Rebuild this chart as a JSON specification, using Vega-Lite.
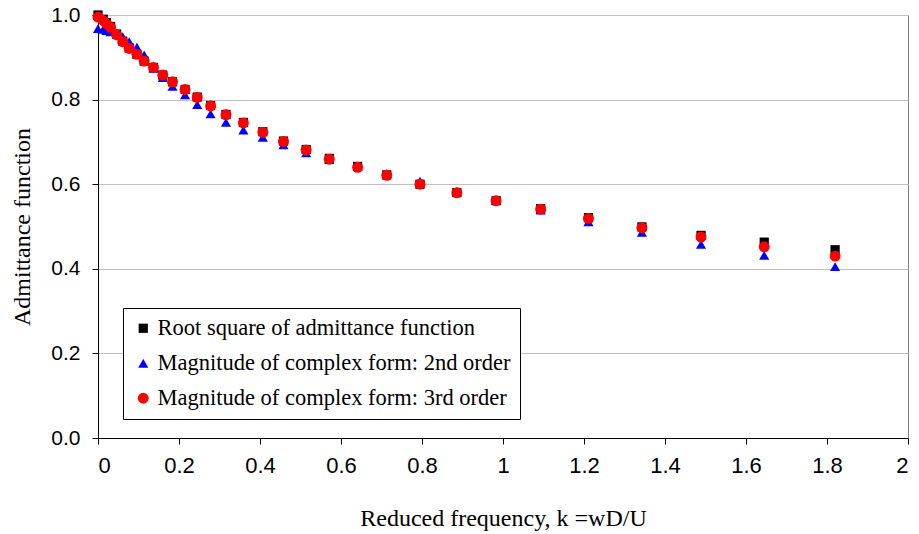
{
  "$schema": "https://vega.github.io/schema/vega-lite/v6.json",
  "width": 810,
  "height": 423,
  "autosize": {"type": "none"},
  "padding": {"left": 98, "top": 15, "right": 11, "bottom": 96},
  "background": "white",
  "config": {
    "view": {"stroke": "#808080", "strokeWidth": 1},
    "axis": {
      "labelFont": "Liberation Sans",
      "labelFontSize": 21,
      "labelColor": "#000000",
      "titleFont": "Liberation Serif",
      "titleFontSize": 24,
      "titleFontWeight": "normal",
      "titleColor": "#000000",
      "tickColor": "#000000",
      "tickSize": 6,
      "domainColor": "#000000"
    }
  },
  "data": {
    "values": [
      {"k": 0.000, "v": 1.000, "s": "Root square of admittance function"},
      {"k": 0.013, "v": 0.990, "s": "Root square of admittance function"},
      {"k": 0.021, "v": 0.982, "s": "Root square of admittance function"},
      {"k": 0.031, "v": 0.973, "s": "Root square of admittance function"},
      {"k": 0.046, "v": 0.955, "s": "Root square of admittance function"},
      {"k": 0.061, "v": 0.938, "s": "Root square of admittance function"},
      {"k": 0.077, "v": 0.922, "s": "Root square of admittance function"},
      {"k": 0.096, "v": 0.907, "s": "Root square of admittance function"},
      {"k": 0.114, "v": 0.891, "s": "Root square of admittance function"},
      {"k": 0.137, "v": 0.876, "s": "Root square of admittance function"},
      {"k": 0.160, "v": 0.858, "s": "Root square of admittance function"},
      {"k": 0.184, "v": 0.842, "s": "Root square of admittance function"},
      {"k": 0.215, "v": 0.824, "s": "Root square of admittance function"},
      {"k": 0.245, "v": 0.806, "s": "Root square of admittance function"},
      {"k": 0.278, "v": 0.786, "s": "Root square of admittance function"},
      {"k": 0.316, "v": 0.765, "s": "Root square of admittance function"},
      {"k": 0.359, "v": 0.746, "s": "Root square of admittance function"},
      {"k": 0.407, "v": 0.724, "s": "Root square of admittance function"},
      {"k": 0.458, "v": 0.702, "s": "Root square of admittance function"},
      {"k": 0.514, "v": 0.682, "s": "Root square of admittance function"},
      {"k": 0.571, "v": 0.661, "s": "Root square of admittance function"},
      {"k": 0.641, "v": 0.642, "s": "Root square of admittance function"},
      {"k": 0.713, "v": 0.622, "s": "Root square of admittance function"},
      {"k": 0.795, "v": 0.600, "s": "Root square of admittance function"},
      {"k": 0.886, "v": 0.580, "s": "Root square of admittance function"},
      {"k": 0.983, "v": 0.561, "s": "Root square of admittance function"},
      {"k": 1.093, "v": 0.542, "s": "Root square of admittance function"},
      {"k": 1.211, "v": 0.521, "s": "Root square of admittance function"},
      {"k": 1.343, "v": 0.499, "s": "Root square of admittance function"},
      {"k": 1.489, "v": 0.479, "s": "Root square of admittance function"},
      {"k": 1.645, "v": 0.463, "s": "Root square of admittance function"},
      {"k": 1.820, "v": 0.445, "s": "Root square of admittance function"},
      {"k": 0.000, "v": 0.968, "s": "Magnitude of complex form: 2nd order"},
      {"k": 0.013, "v": 0.966, "s": "Magnitude of complex form: 2nd order"},
      {"k": 0.021, "v": 0.963, "s": "Magnitude of complex form: 2nd order"},
      {"k": 0.031, "v": 0.960, "s": "Magnitude of complex form: 2nd order"},
      {"k": 0.046, "v": 0.955, "s": "Magnitude of complex form: 2nd order"},
      {"k": 0.061, "v": 0.949, "s": "Magnitude of complex form: 2nd order"},
      {"k": 0.077, "v": 0.937, "s": "Magnitude of complex form: 2nd order"},
      {"k": 0.096, "v": 0.924, "s": "Magnitude of complex form: 2nd order"},
      {"k": 0.114, "v": 0.906, "s": "Magnitude of complex form: 2nd order"},
      {"k": 0.137, "v": 0.874, "s": "Magnitude of complex form: 2nd order"},
      {"k": 0.160, "v": 0.852, "s": "Magnitude of complex form: 2nd order"},
      {"k": 0.184, "v": 0.831, "s": "Magnitude of complex form: 2nd order"},
      {"k": 0.215, "v": 0.811, "s": "Magnitude of complex form: 2nd order"},
      {"k": 0.245, "v": 0.788, "s": "Magnitude of complex form: 2nd order"},
      {"k": 0.278, "v": 0.766, "s": "Magnitude of complex form: 2nd order"},
      {"k": 0.316, "v": 0.746, "s": "Magnitude of complex form: 2nd order"},
      {"k": 0.359, "v": 0.728, "s": "Magnitude of complex form: 2nd order"},
      {"k": 0.407, "v": 0.711, "s": "Magnitude of complex form: 2nd order"},
      {"k": 0.458, "v": 0.693, "s": "Magnitude of complex form: 2nd order"},
      {"k": 0.514, "v": 0.674, "s": "Magnitude of complex form: 2nd order"},
      {"k": 0.571, "v": 0.658, "s": "Magnitude of complex form: 2nd order"},
      {"k": 0.641, "v": 0.643, "s": "Magnitude of complex form: 2nd order"},
      {"k": 0.713, "v": 0.625, "s": "Magnitude of complex form: 2nd order"},
      {"k": 0.795, "v": 0.607, "s": "Magnitude of complex form: 2nd order"},
      {"k": 0.886, "v": 0.583, "s": "Magnitude of complex form: 2nd order"},
      {"k": 0.983, "v": 0.561, "s": "Magnitude of complex form: 2nd order"},
      {"k": 1.093, "v": 0.539, "s": "Magnitude of complex form: 2nd order"},
      {"k": 1.211, "v": 0.511, "s": "Magnitude of complex form: 2nd order"},
      {"k": 1.343, "v": 0.486, "s": "Magnitude of complex form: 2nd order"},
      {"k": 1.489, "v": 0.458, "s": "Magnitude of complex form: 2nd order"},
      {"k": 1.645, "v": 0.432, "s": "Magnitude of complex form: 2nd order"},
      {"k": 1.820, "v": 0.405, "s": "Magnitude of complex form: 2nd order"},
      {"k": 0.000, "v": 0.995, "s": "Magnitude of complex form: 3rd order"},
      {"k": 0.013, "v": 0.987, "s": "Magnitude of complex form: 3rd order"},
      {"k": 0.021, "v": 0.979, "s": "Magnitude of complex form: 3rd order"},
      {"k": 0.031, "v": 0.971, "s": "Magnitude of complex form: 3rd order"},
      {"k": 0.046, "v": 0.953, "s": "Magnitude of complex form: 3rd order"},
      {"k": 0.061, "v": 0.937, "s": "Magnitude of complex form: 3rd order"},
      {"k": 0.077, "v": 0.921, "s": "Magnitude of complex form: 3rd order"},
      {"k": 0.096, "v": 0.907, "s": "Magnitude of complex form: 3rd order"},
      {"k": 0.114, "v": 0.891, "s": "Magnitude of complex form: 3rd order"},
      {"k": 0.137, "v": 0.876, "s": "Magnitude of complex form: 3rd order"},
      {"k": 0.160, "v": 0.858, "s": "Magnitude of complex form: 3rd order"},
      {"k": 0.184, "v": 0.842, "s": "Magnitude of complex form: 3rd order"},
      {"k": 0.215, "v": 0.824, "s": "Magnitude of complex form: 3rd order"},
      {"k": 0.245, "v": 0.805, "s": "Magnitude of complex form: 3rd order"},
      {"k": 0.278, "v": 0.785, "s": "Magnitude of complex form: 3rd order"},
      {"k": 0.316, "v": 0.764, "s": "Magnitude of complex form: 3rd order"},
      {"k": 0.359, "v": 0.745, "s": "Magnitude of complex form: 3rd order"},
      {"k": 0.407, "v": 0.723, "s": "Magnitude of complex form: 3rd order"},
      {"k": 0.458, "v": 0.701, "s": "Magnitude of complex form: 3rd order"},
      {"k": 0.514, "v": 0.681, "s": "Magnitude of complex form: 3rd order"},
      {"k": 0.571, "v": 0.659, "s": "Magnitude of complex form: 3rd order"},
      {"k": 0.641, "v": 0.640, "s": "Magnitude of complex form: 3rd order"},
      {"k": 0.713, "v": 0.621, "s": "Magnitude of complex form: 3rd order"},
      {"k": 0.795, "v": 0.600, "s": "Magnitude of complex form: 3rd order"},
      {"k": 0.886, "v": 0.580, "s": "Magnitude of complex form: 3rd order"},
      {"k": 0.983, "v": 0.561, "s": "Magnitude of complex form: 3rd order"},
      {"k": 1.093, "v": 0.541, "s": "Magnitude of complex form: 3rd order"},
      {"k": 1.211, "v": 0.519, "s": "Magnitude of complex form: 3rd order"},
      {"k": 1.343, "v": 0.497, "s": "Magnitude of complex form: 3rd order"},
      {"k": 1.489, "v": 0.475, "s": "Magnitude of complex form: 3rd order"},
      {"k": 1.645, "v": 0.452, "s": "Magnitude of complex form: 3rd order"},
      {"k": 1.820, "v": 0.430, "s": "Magnitude of complex form: 3rd order"}
    ]
  },
  "mark": {"type": "point", "filled": true, "opacity": 1},
  "encoding": {
    "x": {
      "field": "k",
      "type": "quantitative",
      "scale": {"domain": [0, 2], "nice": false},
      "axis": {
        "values": [0, 0.2, 0.4, 0.6, 0.8, 1, 1.2, 1.4, 1.6, 1.8, 2],
        "format": "~g",
        "grid": false,
        "labelFont": "Liberation Sans Narrow, Liberation Sans",
        "labelFontSize": 22,
        "labelPadding": 11,
        "title": "Reduced frequency, k =wD/U",
        "titlePadding": 30
      }
    },
    "y": {
      "field": "v",
      "type": "quantitative",
      "scale": {"domain": [0, 1], "nice": false},
      "axis": {
        "values": [0, 0.2, 0.4, 0.6, 0.8, 1],
        "format": ".1f",
        "grid": true,
        "gridColor": "#c0c0c0",
        "gridWidth": 1,
        "labelPadding": 12,
        "title": "Admittance function",
        "titlePadding": 16
      }
    },
    "size": {
      "field": "s",
      "type": "nominal",
      "scale": {
        "domain": ["Root square of admittance function", "Magnitude of complex form: 2nd order", "Magnitude of complex form: 3rd order"],
        "range": [85, 120, 95]
      },
      "legend": null
    },
    "color": {
      "field": "s",
      "type": "nominal",
      "scale": {
        "domain": ["Root square of admittance function", "Magnitude of complex form: 2nd order", "Magnitude of complex form: 3rd order"],
        "range": ["#000000", "#0000ff", "#ff0000"]
      },
      "legend": {
        "title": null,
        "orient": "none",
        "legendX": 25,
        "legendY": 293,
        "strokeColor": "#000000",
        "fillColor": "#ffffff",
        "padding": 9,
        "symbolOffset": 0,
        "symbolSize": 55,
        "labelFont": "Liberation Serif",
        "labelFontSize": 22.5,
        "labelColor": "#000000",
        "labelLimit": 0,
        "labelOffset": 3,
        "rowPadding": 12
      }
    },
    "shape": {
      "field": "s",
      "type": "nominal",
      "scale": {
        "domain": ["Root square of admittance function", "Magnitude of complex form: 2nd order", "Magnitude of complex form: 3rd order"],
        "range": ["square", "triangle-up", "circle"]
      }
    }
  }
}
